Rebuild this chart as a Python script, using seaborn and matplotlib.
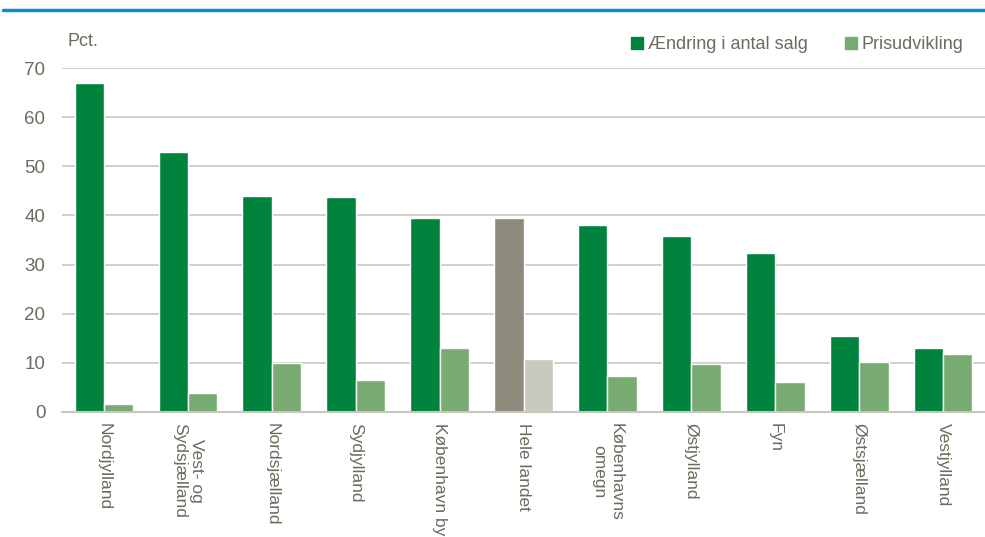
import matplotlib
matplotlib.use("Agg")
import matplotlib.pyplot as plt
import seaborn as sns
import pandas as pd
from matplotlib.lines import Line2D

regions = ["Nordjylland", "Vest- og\nSydsjælland", "Nordsjælland", "Sydjylland",
           "København by", "Hele landet", "Københavns\nomegn", "Østjylland", "Fyn",
           "Østsjælland", "Vestjylland"]
salg = [67.0, 52.9, 44.0, 43.8, 39.5, 39.5, 38.1, 35.8, 32.4, 15.5, 13.0]
pris = [1.6, 3.9, 10.0, 6.5, 13.0, 10.8, 7.3, 9.8, 6.1, 10.2, 11.8]
series = ["Ændring i antal salg", "Prisudvikling"]
yticks = [0, 10, 20, 30, 40, 50, 60, 70]

dark = "#00843D"
light = "#78AB72"
dark_hl = "#8C8A7A"
light_hl = "#C9C9BD"
txt = "#6B6B5E"
grid = "#C8C8BA"

sns.set_theme(style="white")
plt.rcParams["font.family"] = ["Liberation Sans Narrow", "Liberation Sans", "DejaVu Sans"]

df = pd.DataFrame({
    "region": regions * 2,
    "serie": [series[0]] * len(regions) + [series[1]] * len(regions),
    "value": salg + pris,
})

fig = plt.figure(figsize=(9.85, 5.37), dpi=100)
ax = fig.add_axes([0.063, 0.2328, 0.937, 0.6404])

sns.barplot(data=df, x="region", y="value", hue="serie", order=regions,
            hue_order=series, palette=[dark, light], width=0.70, saturation=1,
            edgecolor="white", linewidth=1.0, ax=ax, legend=False)

# recolor highlight group
hl = regions.index("Hele landet")
n = len(regions)
for i, p in enumerate(ax.patches[:2 * n]):
    grp = i % n
    if grp == hl:
        p.set_facecolor(dark_hl if i < n else light_hl)

ax.set_ylim(0, 70)
ax.set_xlim(-0.5, n - 0.5)
ax.set_yticks(yticks)
ax.set_yticklabels([str(t) for t in yticks], fontsize=13.5, color=txt)
ax.yaxis.grid(True, color=grid, linewidth=1.2)
ax.set_axisbelow(True)
ax.tick_params(axis="y", length=0, pad=12)
ax.tick_params(axis="x", length=0, pad=8)
ax.set_xticks(range(n))
ax.set_xticklabels(regions, rotation=-90, fontsize=12.5, color=txt,
                   va="top", ha="center", multialignment="center")
ax.set_xlabel("")
ax.set_ylabel("")
for s in ["left", "right", "top"]:
    ax.spines[s].set_visible(False)
ax.spines["bottom"].set_color(grid)
ax.spines["bottom"].set_linewidth(1.5)

fig.text(0.069, 0.922, "Pct.", fontsize=13, color=txt, ha="left", va="center")

handles = [Line2D([], [], marker="s", linestyle="", markersize=8, color=dark),
           Line2D([], [], marker="s", linestyle="", markersize=8, color=light)]
fig.legend(handles, series, loc="center right", bbox_to_anchor=(0.995, 0.917),
           ncol=2, frameon=False, fontsize=13, labelcolor=txt,
           handletextpad=0.1, columnspacing=1.9, handlelength=1.0)

fig.add_artist(Line2D([0.003, 1.0], [0.981, 0.981], color="#0A8AD0", linewidth=2.5,
                      transform=fig.transFigure))

fig.savefig("out.png", dpi=100)
